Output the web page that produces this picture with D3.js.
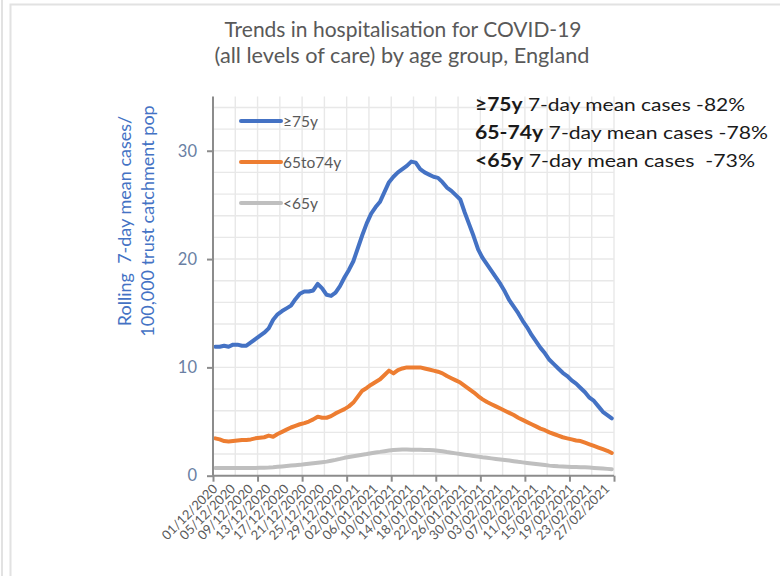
<!DOCTYPE html>
<html><head><meta charset="utf-8">
<script src="https://cdn.jsdelivr.net/npm/d3@7"></script>
<style>
html,body{margin:0;padding:0;background:#fff;}
svg{display:block;font-family:Lato,"Open Sans",sans-serif;}
</style></head>
<body>
<svg id="chart" width="780" height="576"></svg>
<script>
// ---- data ----
const startDate = "01/12/2020";
const tickLabels = ["01/12/2020","05/12/2020","09/12/2020","13/12/2020","17/12/2020","21/12/2020",
  "25/12/2020","29/12/2020","02/01/2021","06/01/2021","10/01/2021","14/01/2021","18/01/2021",
  "22/01/2021","26/01/2021","30/01/2021","03/02/2021","07/02/2021","11/02/2021","15/02/2021",
  "19/02/2021","23/02/2021","27/02/2021"];
const over75 = [11.9,11.9,12.0,11.9,12.1,12.1,12.0,12.0,12.3,12.6,
  12.9,13.2,13.6,14.4,14.9,15.2,15.45,15.7,16.3,16.8,
  17.0,17.0,17.1,17.7,17.3,16.7,16.6,16.9,17.5,18.3,
  19.0,19.8,21.0,22.2,23.3,24.2,24.8,25.3,26.2,27.1,
  27.6,28.0,28.3,28.6,29.0,28.9,28.3,28.0,27.8,27.6,
  27.5,27.1,26.6,26.3,25.9,25.5,24.3,23.2,22.1,20.9,
  20.1,19.5,18.9,18.3,17.7,17.0,16.2,15.6,15.0,14.3,
  13.7,13.0,12.4,11.8,11.3,10.7,10.3,9.9,9.5,9.2,
  8.8,8.5,8.1,7.7,7.2,6.9,6.4,5.9,5.6,5.3];
const age65to74 = [3.45,3.35,3.2,3.15,3.2,3.25,3.3,3.3,3.35,3.45,
  3.5,3.55,3.7,3.6,3.85,4.05,4.25,4.45,4.6,4.75,
  4.85,5.0,5.2,5.45,5.35,5.35,5.5,5.75,5.95,6.15,
  6.4,6.75,7.3,7.85,8.1,8.4,8.65,8.9,9.3,9.7,
  9.45,9.75,9.9,10.0,10.0,10.0,10.0,9.9,9.8,9.7,
  9.6,9.45,9.2,9.0,8.8,8.6,8.3,8.0,7.7,7.35,
  7.05,6.8,6.6,6.4,6.2,6.0,5.8,5.6,5.35,5.15,
  4.95,4.75,4.55,4.35,4.2,4.0,3.85,3.7,3.55,3.45,
  3.35,3.25,3.2,3.05,2.9,2.75,2.6,2.45,2.3,2.1];
const under65 = [0.7,0.7,0.7,0.7,0.7,0.7,0.7,0.71,0.72,0.72,
  0.73,0.74,0.75,0.78,0.82,0.86,0.9,0.94,0.97,1.0,
  1.05,1.1,1.15,1.2,1.25,1.3,1.38,1.46,1.55,1.65,
  1.73,1.8,1.87,1.94,2.0,2.08,2.15,2.2,2.26,2.32,
  2.38,2.4,2.42,2.42,2.4,2.4,2.4,2.38,2.37,2.35,
  2.3,2.25,2.18,2.12,2.06,2.0,1.94,1.88,1.82,1.76,
  1.7,1.65,1.6,1.55,1.5,1.45,1.4,1.34,1.28,1.23,
  1.18,1.13,1.08,1.03,0.98,0.93,0.9,0.87,0.85,0.83,
  0.81,0.8,0.79,0.77,0.75,0.72,0.69,0.66,0.63,0.6];
const seriesNames = ["\u226575y","65to74y","<65y"];
const seriesColors = ["#4472C4","#ED7D31","#BFBFBF"];
const yTicks = [0,10,20,30];
const notes = [["\u226575y"," 7-day mean cases -82%"],["65-74y"," 7-day mean cases -78%"],["<65y"," 7-day mean cases  -73%"]];

// ---- chart ----
const svg = d3.select("#chart");
const parse = d3.timeParse("%d/%m/%Y");
const dates = d3.timeDay.range(parse(startDate), d3.timeDay.offset(parse(startDate), over75.length));
const fmt = d3.timeFormat("%d/%m/%Y");
const n = dates.length;

const L = 213, R = 614, T = 96.6, B = 475.7;
const x = d3.scaleLinear().domain([-0.5, n - 0.5]).range([L, R]);
const y = d3.scaleLinear().domain([0, 35]).range([B, T]);

// frame
svg.append("line").attr("x1",2).attr("x2",2).attr("y1",0).attr("y2",576).attr("stroke","#e2e2e2").attr("stroke-width",2);
svg.append("rect").attr("x",10.5).attr("y",4.5).attr("width",800).attr("height",600)
  .attr("fill","none").attr("stroke","#e2e2e2").attr("stroke-width",2);

// gridlines
const g = svg.append("g");
g.selectAll("line.h").data(d3.range(2, 35, 2)).join("line")
  .attr("x1", L).attr("x2", R).attr("y1", d => y(d)).attr("y2", d => y(d))
  .attr("stroke", "#e8e8e8").attr("stroke-width", 1.4);
g.selectAll("line.v").data(d3.range(-0.5 + 5, n, 5)).join("line")
  .attr("x1", d => x(d)).attr("x2", d => x(d)).attr("y1", T).attr("y2", B)
  .attr("stroke", "#e8e8e8").attr("stroke-width", 1.4);

// lines
const line = d3.line().x((d, i) => x(i)).y(d => y(d)).curve(d3.curveLinear);
[over75, age65to74, under65].forEach((s, k) => {
  svg.append("path").datum(s).attr("d", line).attr("fill", "none")
    .attr("stroke", seriesColors[k]).attr("stroke-width", 4).attr("stroke-linejoin", "round").attr("stroke-linecap","round");
});

// y axis
const yAxis = d3.axisLeft(y).tickValues(yTicks).tickSize(6).tickPadding(10).tickFormat(d3.format("d"));
const ya = svg.append("g").attr("transform", `translate(${L},0)`).call(yAxis);
ya.select(".domain").attr("stroke", "#8c8c8c").attr("stroke-width", 2).attr("d", `M-0,${T}V${B}`);
ya.selectAll(".tick line").attr("stroke", "#8c8c8c").attr("stroke-width", 2);
ya.selectAll(".tick text").attr("fill", "#6a7fa3").attr("font-size", 16.5).attr("font-family", "Lato");

// x axis
const xAxis = d3.axisBottom(x).tickValues(d3.range(-0.5, n + 0.1, 10)).tickSize(6).tickFormat("");
const xa = svg.append("g").attr("transform", `translate(0,${B})`).call(xAxis);
xa.select(".domain").attr("stroke", "#8c8c8c").attr("stroke-width", 2).attr("d", `M${L},0H${R}`);
xa.selectAll(".tick line").attr("stroke", "#8c8c8c").attr("stroke-width", 2);

// x labels
const labelIdx = tickLabels.map(t => dates.findIndex(d => fmt(d) === t));
svg.append("g").selectAll("text").data(labelIdx).join("text")
  .attr("transform", i => `translate(${x(i) + 3},${B + 14}) rotate(-45)`)
  .attr("text-anchor", "end").attr("font-size", 13).attr("fill", "#595959")
  .text((i, k) => tickLabels[k]);

// y title
const yt = svg.append("g").attr("transform", "translate(131,221) rotate(-90)");
yt.append("text").attr("text-anchor","middle").attr("y",0).attr("font-size",18).attr("fill","#4472C4").attr("xml:space","preserve").text("Rolling  7-day mean cases/");
yt.append("text").attr("text-anchor","middle").attr("y",23).attr("font-size",18).attr("fill","#4472C4").text("100,000 trust catchment pop");

// title
svg.append("text").attr("x",403).attr("y",37).attr("text-anchor","middle").attr("font-size",20.5).attr("fill","#595959")
  .attr("textLength",357).attr("lengthAdjust","spacingAndGlyphs").text("Trends in hospitalisation for COVID-19");
svg.append("text").attr("x",402).attr("y",63).attr("text-anchor","middle").attr("font-size",20.5).attr("fill","#595959")
  .attr("textLength",375).attr("lengthAdjust","spacingAndGlyphs").text("(all levels of care) by age group, England");

// legend
const legY = [121, 162, 203];
seriesNames.forEach((nm, k) => {
  svg.append("line").attr("x1",241).attr("x2",281).attr("y1",legY[k]).attr("y2",legY[k])
    .attr("stroke",seriesColors[k]).attr("stroke-width",4).attr("stroke-linecap","round");
  svg.append("text").attr("x",283).attr("y",legY[k]+5.5).attr("font-size",15.5).attr("fill","#595959").text(nm);
});

// annotations
const noteY = [111, 139, 167];
const noteW = [270, 293, 280];
notes.forEach((nt, k) => {
  const t = svg.append("text").attr("x",475).attr("y",noteY[k]).attr("font-size",18).attr("fill","#1a1a1a")
    .attr("xml:space","preserve").attr("textLength",noteW[k]).attr("lengthAdjust","spacingAndGlyphs");
  t.append("tspan").attr("font-weight","bold").text(nt[0]);
  t.append("tspan").text(nt[1]);
});
</script>
</body></html>
